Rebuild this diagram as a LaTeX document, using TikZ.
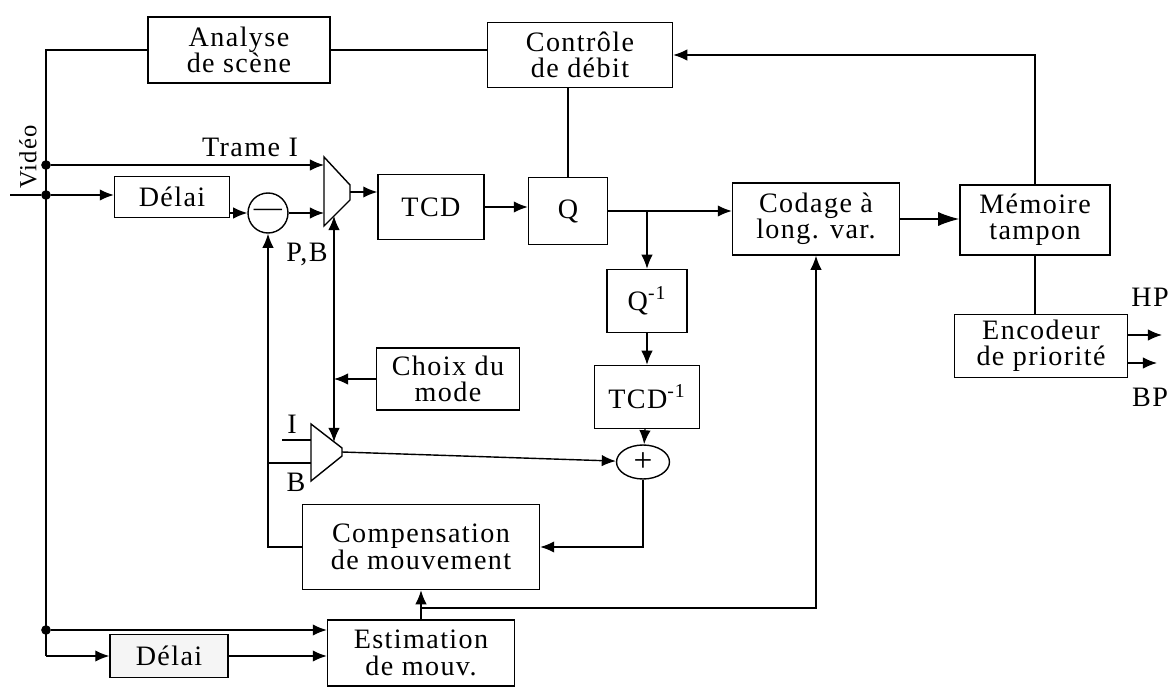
\documentclass[tikz,border=0pt]{standalone}
\usepackage{fontspec}
\setmainfont{Liberation Serif}[LetterSpace=5]
\usetikzlibrary{arrows.meta,calc,positioning,shapes.geometric}
\tikzset{
  blk/.style={draw,line width=0.8pt,align=center,inner sep=2pt},
  sumnd/.style={circle,draw,line width=0.8pt,inner sep=0pt,minimum size=0.8cm},
  addnd/.style={ellipse,draw,line width=0.8pt,inner sep=0pt,minimum width=1.06cm,minimum height=0.68cm},
  dot/.style={circle,fill,inner sep=0pt,minimum size=5.5pt},
  muxshape/.style={draw,line width=0.8pt,fill=white},
  wire/.style={line width=0.8pt},
  arr/.style={-{Latex[length=8pt,width=6.5pt]},line width=0.8pt},
  dblarr/.style={{Latex[length=8pt,width=6.5pt]}-{Latex[length=8pt,width=6.5pt]},line width=0.8pt},
  bigarr/.style={-{Latex[length=12pt,width=8pt]},line width=0.8pt},
  every node/.style={font=\fontsize{16}{15}\selectfont}
}

\begin{document}
\begin{tikzpicture}[x=0.02cm,y=-0.02cm]
\useasboundingbox (0,0) rectangle (1169,689);
% blocks
\node[blk,minimum width=3.64cm,minimum height=1.32cm] (analyse) at (239,50) {Analyse\\de scène};
\node[blk,minimum width=3.70cm,minimum height=1.30cm] (controle) at (580,55) {Contrôle\\de débit};
\node[blk,minimum width=2.30cm,minimum height=0.82cm] (delaiA) at (172,197) {Délai};
\node[blk,minimum width=2.12cm,minimum height=1.30cm] (tcd) at (431,207) {TCD};
\node[blk,minimum width=1.58cm,minimum height=1.34cm] (q) at (568,211) {Q};
\node[blk,minimum width=3.34cm,minimum height=1.44cm] (codage) at (816,219) {Codage à\\long. var.};
\node[blk,minimum width=3.00cm,minimum height=1.40cm] (memoire) at (1035,220) {Mémoire\\tampon};
\node[blk,minimum width=3.46cm,minimum height=1.26cm] (encodeur) at (1041,346) {Encodeur\\de priorité};
\node[blk,minimum width=1.60cm,minimum height=1.26cm] (qinv) at (647,301) {Q\textsuperscript{-1}};
\node[blk,minimum width=2.10cm,minimum height=1.26cm] (tcdinv) at (647,397) {TCD\textsuperscript{-1}};
\node[blk,minimum width=2.86cm,minimum height=1.24cm] (choix) at (448,379) {Choix du\\mode};
\node[blk,minimum width=4.74cm,minimum height=1.70cm] (comp) at (421,547) {Compensation\\de mouvement};
\node[blk,minimum width=3.74cm,minimum height=1.32cm] (estim) at (421,653) {Estimation\\de mouv.};
\node[blk,fill=gray!8,minimum width=2.36cm,minimum height=0.86cm] (delaiB) at (169,656) {Délai};
\node[sumnd] (sub) at (268,213) {---};
\node[addnd,font=\fontsize{19}{19}\selectfont] (add) at (643,462) {+};
% labels
\node[rotate=90,font=\fontsize{14}{14}\selectfont] (video) at (28,157) {Vidéo};
\node (trame) at (250,147) {Trame I};
\node (pb) at (307,254) {P,B};
\node (lblI) at (292,424) {I};
\node (lblB) at (296,482) {B};
\node (hplbl) at (1150,297) {HP};
\node (bplbl) at (1150,397) {BP};
% multiplexeurs
\draw[muxshape] (324,157) -- (350,185) -- (350,200) -- (324,226) -- cycle;
\coordinate (muxA-i) at (324,165);
\coordinate (muxA-p) at (324,213);
\coordinate (muxA-c) at (334,216);
\coordinate (muxA-o) at (350,192);
\draw[muxshape] (311,424) -- (342,448) -- (342,456) -- (311,481) -- cycle;
\coordinate (muxB-i) at (311,440);
\coordinate (muxB-b) at (311,463);
\coordinate (muxB-c) at (334,442);
\coordinate (muxB-o) at (342,452);
% branch points
\node[dot] (dI) at (46,165) {};
\node[dot] (dD) at (46,195) {};
\node[dot] (dE) at (46,630) {};
\coordinate (vin) at (10,195);
\coordinate (vbot) at (46,656);
\coordinate (bfb) at (268,463);
\coordinate (iin) at (282,440);
\coordinate (mv) at (421,608);
\coordinate (hp) at (1162,335);
\coordinate (bp) at (1157,363);
% connectors
\draw[wire] (analyse.west) -| (vbot);
\draw[arr] (vbot) -- (delaiB.west);
\draw[wire] (vin) -- (dD);
\draw[arr] (dI) -- (muxA-i);
\draw[arr] (dD) -- (dD -| delaiA.west);
\draw[arr] (delaiA.east |- sub.west) -- (sub.west);
\draw[arr] (sub.east) -- (muxA-p);
\draw[arr] (muxA-o) -- (muxA-o -| tcd.west);
\draw[arr] (tcd.east) -- (tcd.east -| q.west);
\draw[arr] (q.east) -- (q.east -| codage.west);
\draw[arr] (qinv.north |- q.east) -- (qinv.north);
\draw[arr] (qinv) -- (tcdinv);
\draw[arr] (tcdinv) -- (add);
\draw[arr] (muxB-o) -- (add);
\draw[arr] (add.south) |- (comp.east);
\draw[arr] (comp.west) -| (sub.south);
\draw[wire] (bfb) -- (muxB-b);
\draw[wire] (iin) -- (muxB-i);
\draw[arr] (choix.west) -- (choix.west -| muxA-c);
\draw[dblarr] (muxB-c) -- (muxA-c);
\draw[arr] (estim.north) -- (comp.south);
\draw[arr] (mv) -| (codage.south);
\draw[arr] (dE) -- (dE -| estim.west);
\draw[arr] (delaiB.east) -- (delaiB.east -| estim.west);
\draw[bigarr] (codage.east) -- (codage.east -| memoire.west);
\draw[arr] (memoire.north) |- (controle.east);
\draw[wire] (analyse.east) -- (analyse.east -| controle.west);
\draw[wire] (q.north |- controle.south) -- (q.north);
\draw[wire] (memoire.south) -- (memoire.south |- encodeur.north);
\draw[arr] (encodeur.east |- hp) -- (hp);
\draw[arr] (encodeur.east |- bp) -- (bp);
\end{tikzpicture}
\end{document}
